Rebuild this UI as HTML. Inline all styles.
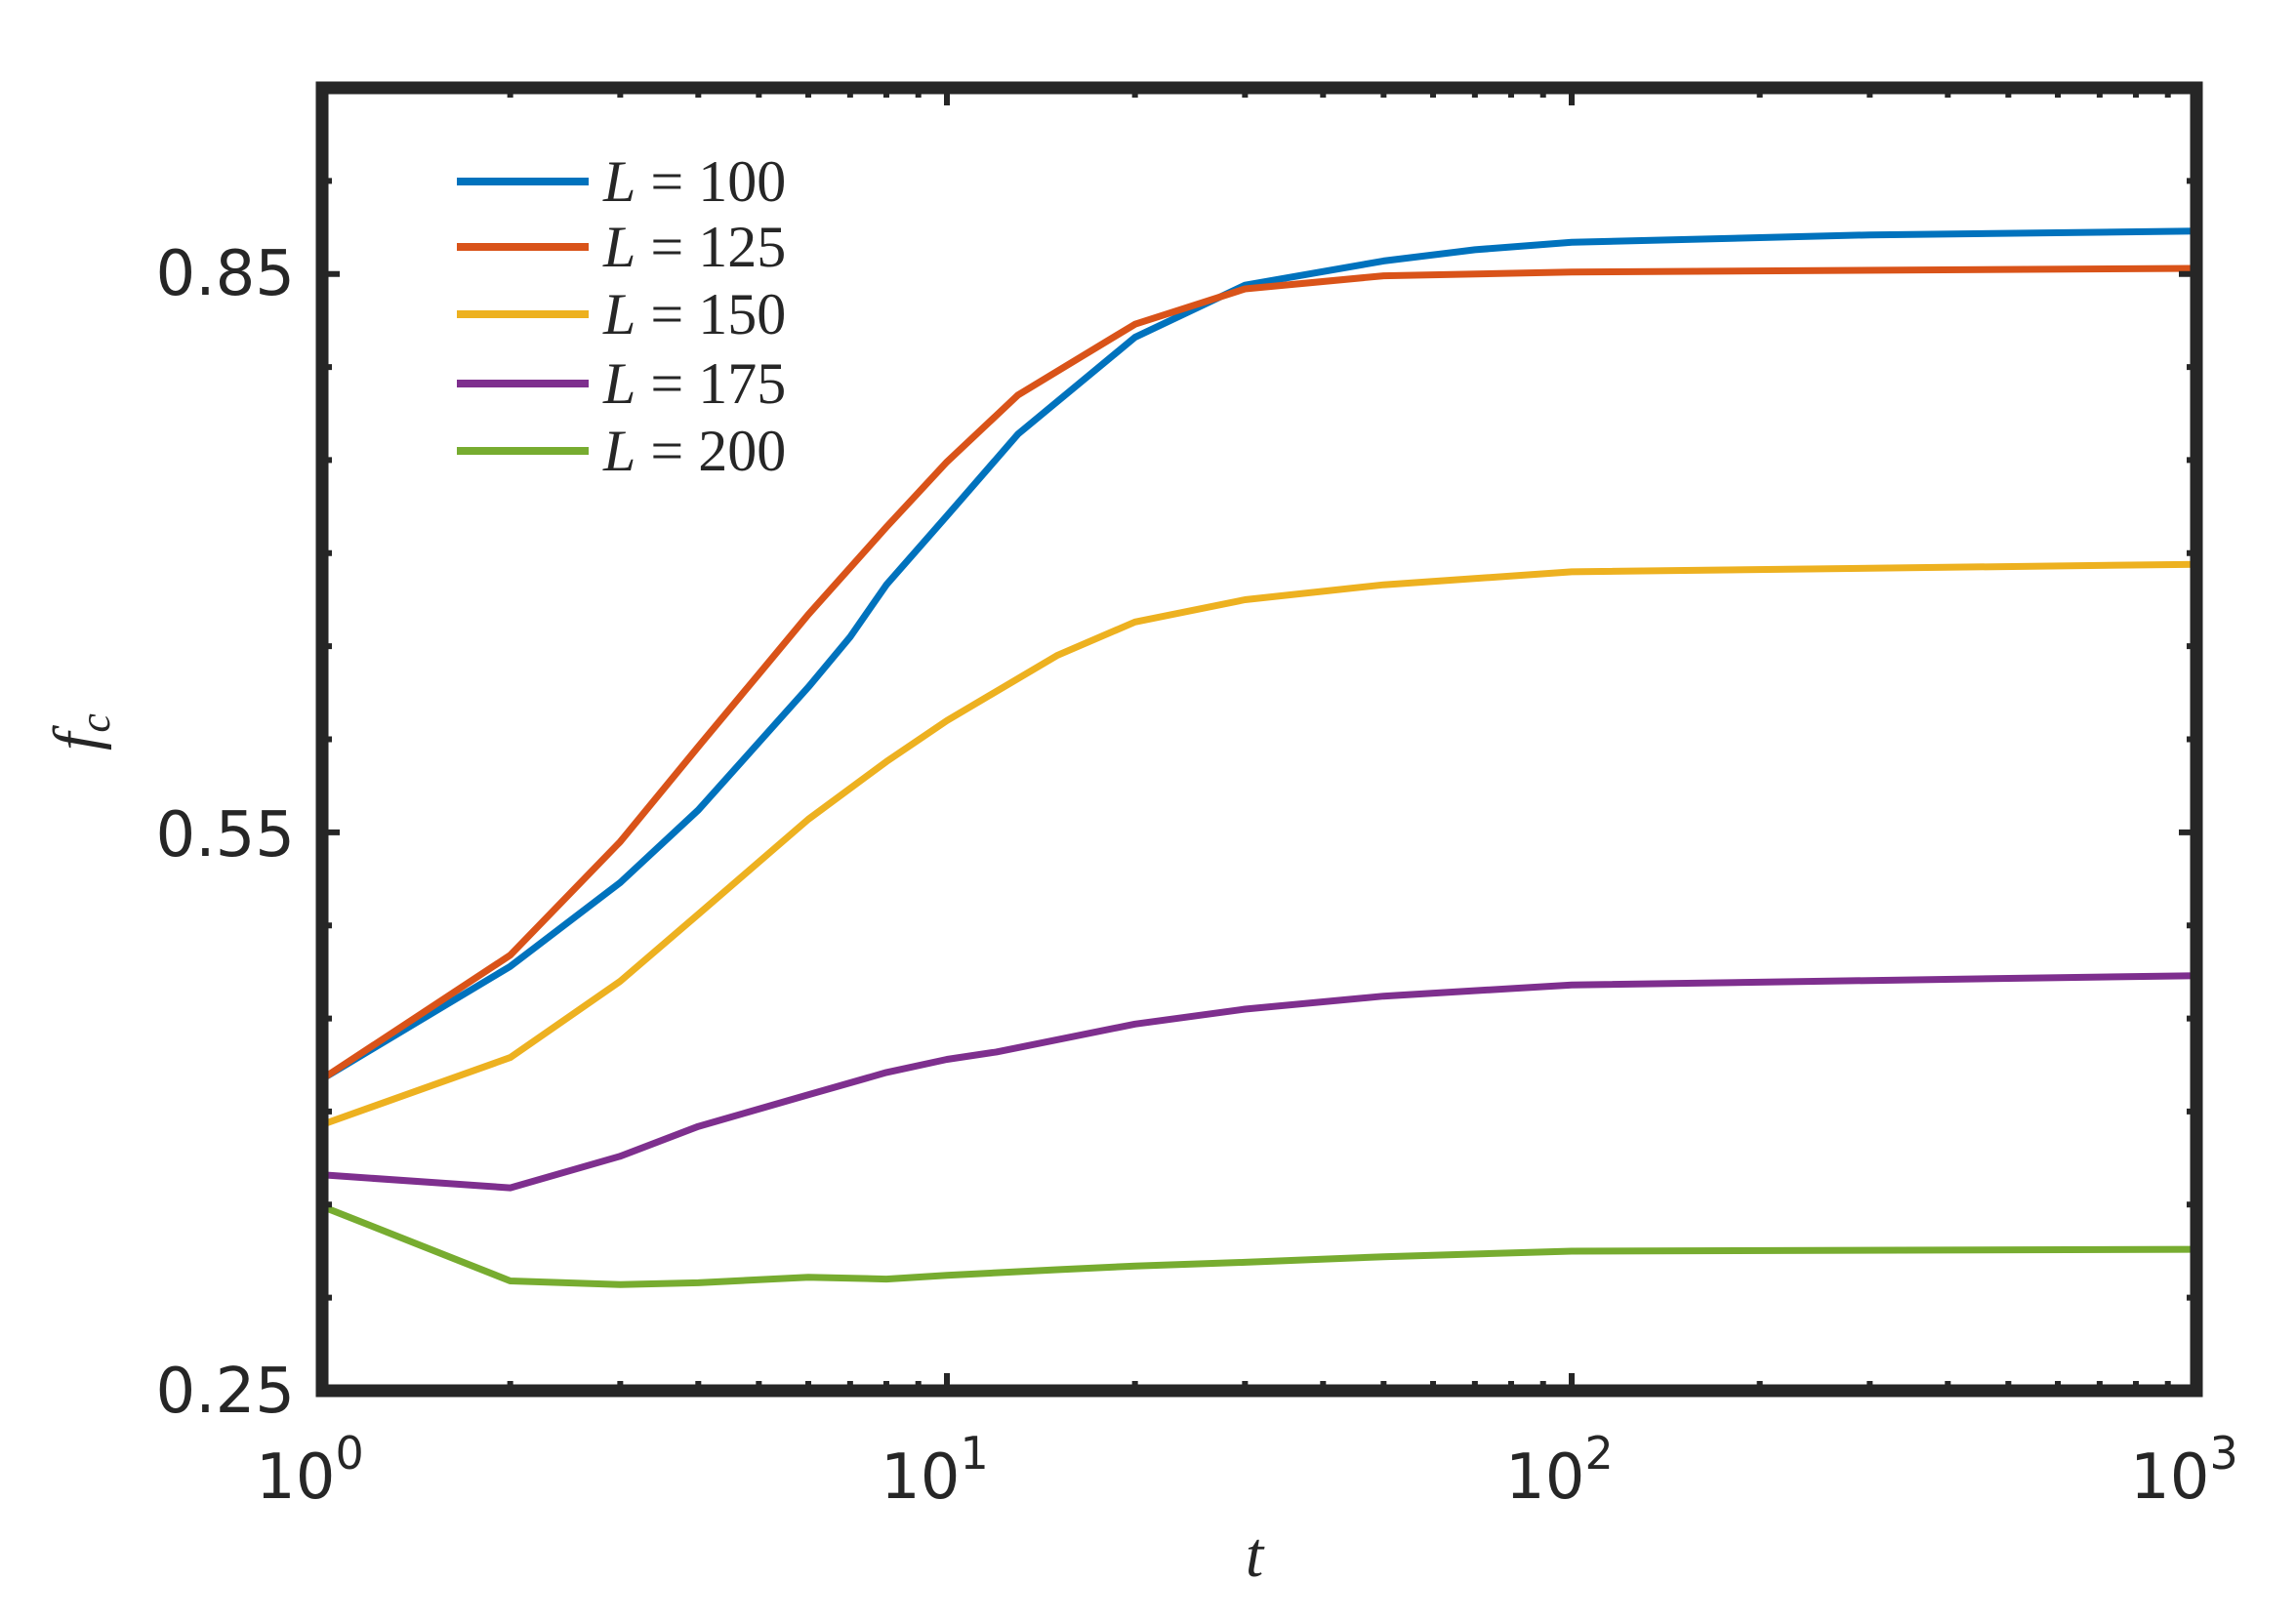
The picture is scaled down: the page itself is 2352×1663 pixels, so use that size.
<!DOCTYPE html>
<html><head><meta charset="utf-8"><style>
html,body{margin:0;padding:0;background:#fff;}
svg{display:block;}
</style></head><body>
<svg id="s" width="2352" height="1663" xmlns="http://www.w3.org/2000/svg">
<rect width="2352" height="1663" fill="#fff"/>
<g id="curves" fill="none" stroke-width="7" stroke-linejoin="round" stroke-linecap="round"></g>
<g id="ticks" stroke="#262626"></g>
<rect x="330" y="90" width="1920" height="1335" fill="none" stroke="#262626" stroke-width="13"/>
<g font-family="DejaVu Sans, sans-serif" font-size="64" fill="#262626" text-anchor="end">
<text x="302" y="302">0.85</text>
<text x="302" y="877">0.55</text>
<text x="302" y="1447">0.25</text>
</g>
<g font-family="DejaVu Sans, sans-serif" font-size="64" fill="#262626">
<text x="262" y="1535">10<tspan font-size="46" dy="-30">0</tspan></text>
<text x="902" y="1535">10<tspan font-size="46" dy="-30">1</tspan></text>
<text x="1542" y="1535">10<tspan font-size="46" dy="-30">2</tspan></text>
<text x="2182" y="1535">10<tspan font-size="46" dy="-30">3</tspan></text>
</g>
<text x="1285" y="1615" font-family="Liberation Serif, serif" font-style="italic" font-size="66" fill="#262626" text-anchor="middle">t</text>
<text transform="translate(100,750) rotate(-90)" font-family="Liberation Serif, serif" font-style="italic" font-size="66" fill="#262626" text-anchor="middle">f<tspan font-size="44" dy="12">c</tspan></text>
<g id="legend" font-family="Liberation Serif, serif" font-size="60" fill="#262626"></g>
</svg>
<script>
var X0=330,X1=2250,Y0=1425,Y1=90,ymin=0.25,ymax=0.95;
function px(t){return X0+Math.log10(t)*640;}
function py(f){return Y0-(f-ymin)/(ymax-ymin)*(Y0-Y1);}
var series=[
["#0072BD",[[1,0.4175],[2,0.478],[3,0.523],[4,0.562],[6,0.628],[7,0.655],[8,0.683],[10,0.720],[13,0.764],[20,0.816],[30,0.844],[50,0.857],[70,0.863],[100,0.867],[300,0.871],[1000,0.873]]],
["#D95319",[[1,0.4175],[2,0.484],[3,0.545],[4,0.596],[5,0.635],[6,0.667],[8,0.714],[10,0.749],[13,0.785],[20,0.823],[30,0.842],[50,0.849],[100,0.851],[1000,0.853]]],
["#EDB120",[[1,0.393],[2,0.429],[3,0.470],[4,0.506],[6,0.557],[8,0.588],[10,0.610],[15,0.645],[20,0.663],[30,0.675],[50,0.683],[100,0.690],[1000,0.694]]],
["#7E2F8E",[[1,0.366],[2,0.359],[3,0.376],[4,0.392],[6,0.409],[8,0.421],[10,0.428],[12,0.432],[20,0.447],[30,0.455],[50,0.462],[100,0.468],[1000,0.473]]],
["#77AC30",[[1,0.349],[2,0.309],[3,0.307],[4,0.308],[6,0.311],[8,0.310],[10,0.312],[15,0.315],[20,0.317],[30,0.319],[50,0.322],[100,0.325],[1000,0.326]]]
];
var ns="http://www.w3.org/2000/svg";
var g=document.getElementById("curves");
series.forEach(function(s){
 var p=document.createElementNS(ns,"polyline");
 p.setAttribute("points",s[1].map(function(d){return px(d[0]).toFixed(1)+","+py(d[1]).toFixed(1);}).join(" "));
 p.setAttribute("stroke",s[0]);g.appendChild(p);
});
var tk=document.getElementById("ticks"),d="";
for(var dec=0;dec<3;dec++)for(var m=1;m<10;m++){
 var x=px(m*Math.pow(10,dec));var L=(m==1)?18:10;
 d+="M"+x+","+Y0+"v-"+L+"M"+x+","+Y1+"v"+L;
}
d+="M"+X1+","+Y0+"v-18M"+X1+","+Y1+"v18";
for(var f=0.25;f<=0.951;f+=0.05){
 var y=py(f);var maj=Math.abs(((f-0.25)/0.3)-Math.round((f-0.25)/0.3))<1e-6;var L=maj?18:10;
 d+="M"+X0+","+y+"h"+L+"M"+X1+","+y+"h-"+L;
}
var pt=document.createElementNS(ns,"path");pt.setAttribute("d",d);pt.setAttribute("stroke-width","6");tk.appendChild(pt);
var lg=document.getElementById("legend");
var labs=["100","125","150","175","200"],ys=[186,253,322,393,462];
series.forEach(function(s,i){
 var l=document.createElementNS(ns,"line");
 l.setAttribute("x1",468);l.setAttribute("x2",603);l.setAttribute("y1",ys[i]);l.setAttribute("y2",ys[i]);
 l.setAttribute("stroke",s[0]);l.setAttribute("stroke-width","8");lg.appendChild(l);
 var t=document.createElementNS(ns,"text");t.setAttribute("x",618);t.setAttribute("y",ys[i]+20);
 t.innerHTML='<tspan font-style="italic">L</tspan> = '+labs[i];lg.appendChild(t);
});
</script>
</body></html>
